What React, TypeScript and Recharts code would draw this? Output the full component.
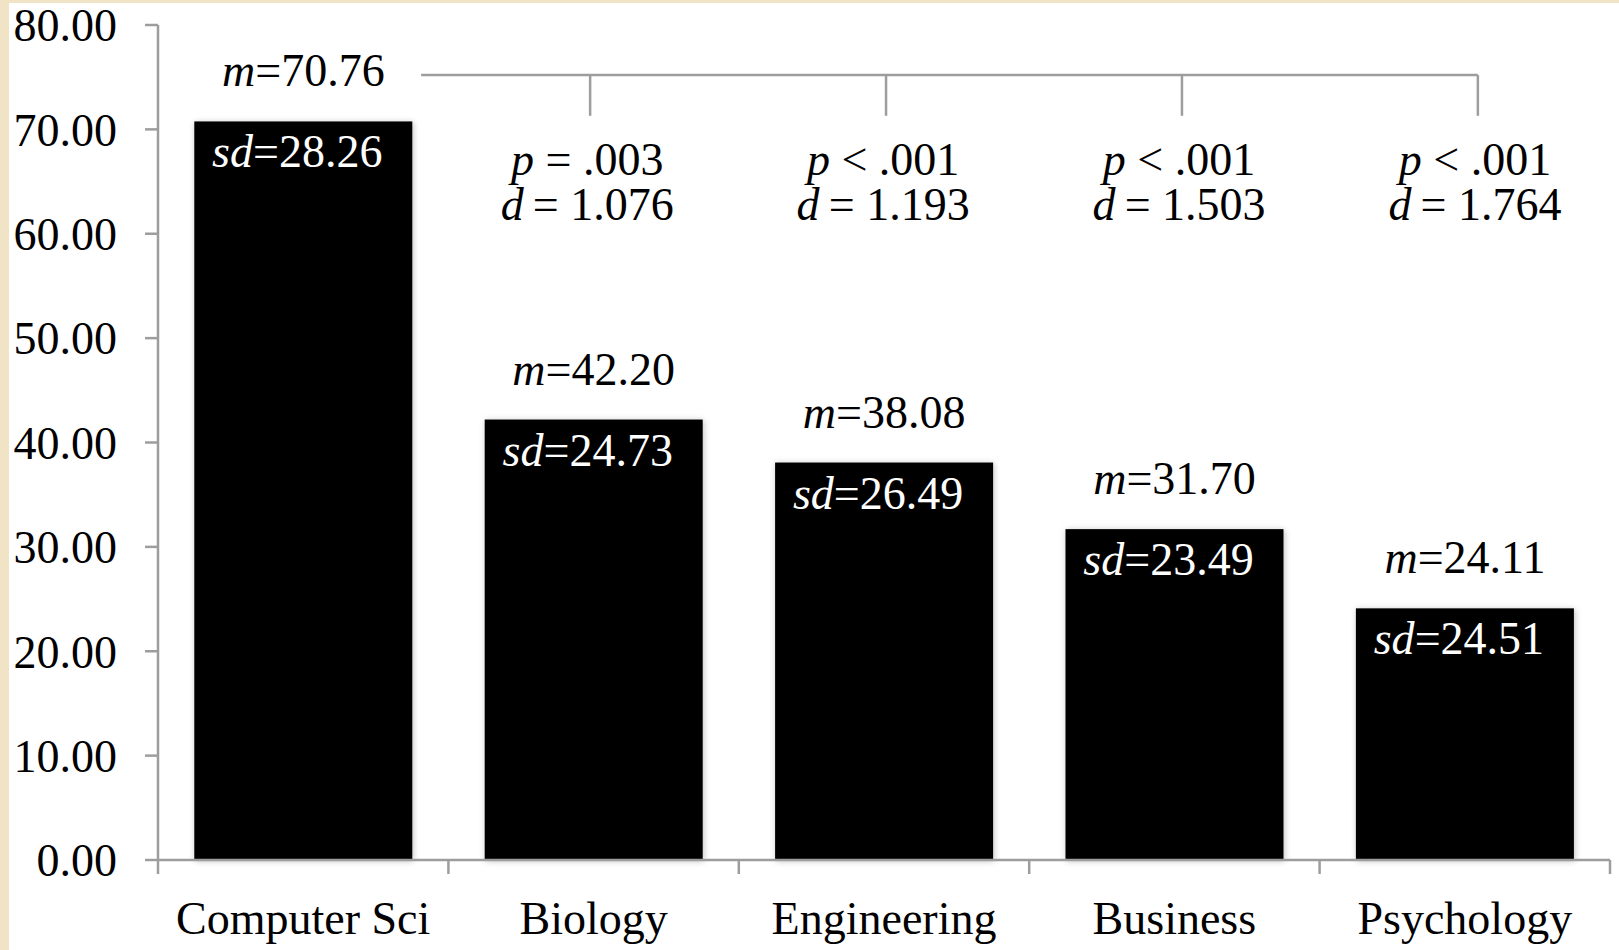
import {
  Bar,
  BarChart,
  ReferenceDot,
  ReferenceLine,
  XAxis,
  YAxis,
} from "recharts";

const majors = ["Computer Sci", "Biology", "Engineering", "Business", "Psychology"];
const means = [70.76, 42.2, 38.08, 31.7, 24.11];
const sds = [28.26, 24.73, 26.49, 23.49, 24.51];
const yTicks = [0, 10, 20, 30, 40, 50, 60, 70, 80];

// comparisons of Computer Sci against each other major
const pTexts = ["= .003", "< .001", "< .001", "< .001"];
const dTexts = ["1.076", "1.193", "1.503", "1.764"];

const W = 1619;
const H = 950;
const MARGIN = { top: 25, right: 9, bottom: 0, left: 0 };
const X_AXIS_H = 90;
const Y_AXIS_W = 158;
const SERIF = '"Liberation Serif", "Times New Roman", Times, serif';
const FS = 46;
const GRAY = "#9d9d9d";
const BAND = (W - MARGIN.left - MARGIN.right - Y_AXIS_W) / majors.length;

// bracket levels, in value units
const BRACKET_Y = 75.2;
const DROP_Y = 71.3;
const STATS_Y = 65.6;

const data = majors.map((major, i) => ({ major, mean: means[i], sd: sds[i] }));

// slot position of a category on the hidden numeric axis (one unit per category)
const slot = (d: { major: string }) => majors.indexOf(d.major) + 0.5;
// x position of each comparison on that axis
const compX = (i: number) => i + 1 + 0.488 + i * 0.019;

function StatBar(props: any) {
  const { x, y, width, height, payload } = props;
  const cx = x + width / 2;
  return (
    <g>
      <rect x={x} y={y} width={width} height={height} fill="#000" filter="url(#barShadow)" />
      <text x={cx} y={y - 35} textAnchor="middle" fontFamily={SERIF} fontSize={FS} fill="#000">
        <tspan fontStyle="italic">m</tspan>={payload.mean.toFixed(2)}
      </text>
      <text x={cx - 6} y={y + 46} textAnchor="middle" fontFamily={SERIF} fontSize={FS} fill="#fff">
        <tspan fontStyle="italic">sd</tspan>={payload.sd.toFixed(2)}
      </text>
    </g>
  );
}

function MajorTick(props: any) {
  const { x, y, payload, index } = props;
  const left = x - BAND / 2;
  const right = x + BAND / 2;
  return (
    <g>
      <line x1={left} x2={left} y1={y} y2={y + 14} stroke={GRAY} strokeWidth={2.5} />
      {index === majors.length - 1 && (
        <line x1={right} x2={right} y1={y} y2={y + 14} stroke={GRAY} strokeWidth={2.5} />
      )}
      <text x={x} y={y + 74} textAnchor="middle" fontFamily={SERIF} fontSize={FS} fill="#000">
        {payload.value}
      </text>
    </g>
  );
}

const statsShape = (i: number) => (props: any) => {
  const { cx, cy } = props;
  return (
    <g>
      <text x={cx} y={cy} textAnchor="middle" fontFamily={SERIF} fontSize={FS} fill="#000">
        <tspan fontStyle="italic">p</tspan>
        {" " + pTexts[i]}
      </text>
      <text x={cx} y={cy + 45} textAnchor="middle" fontFamily={SERIF} fontSize={FS} fill="#000">
        <tspan fontStyle="italic">d</tspan>
        {"\u2009= " + dTexts[i]}
      </text>
    </g>
  );
};

export default function App() {
  const startX = 0.5 + 0.375 + 0.031;
  return (
    <div style={{ position: "absolute", left: 0, top: 0, width: W, height: H, background: "#f1e3c6" }}>
      <div style={{ position: "absolute", left: 9, top: 3, right: 0, bottom: 0, background: "#fff" }} />
      <div style={{ position: "absolute", left: 0, top: 0 }}>
        <BarChart width={W} height={H} data={data} margin={MARGIN} barCategoryGap="12.5%">
          <defs>
            <filter id="barShadow" x="-10%" y="-10%" width="120%" height="120%">
              <feDropShadow dx="1" dy="1" stdDeviation="3" floodColor="#000" floodOpacity="0.25" />
            </filter>
          </defs>
          <XAxis
            dataKey="major"
            tick={<MajorTick />}
            tickLine={false}
            tickSize={0}
            tickMargin={0}
            axisLine={{ stroke: GRAY, strokeWidth: 2.5 }}
            interval={0}
            height={X_AXIS_H}
          />
          <XAxis
            xAxisId="n"
            dataKey={slot}
            type="number"
            domain={[0, majors.length]}
            allowDataOverflow
            hide
          />
          <YAxis
            width={Y_AXIS_W}
            domain={[0, 80]}
            ticks={yTicks}
            interval={0}
            tickFormatter={(v: number) => v.toFixed(2)}
            tick={{ fill: "#000", fontSize: FS, fontFamily: SERIF }}
            tickSize={13}
            tickMargin={28}
            axisLine={{ stroke: GRAY, strokeWidth: 2.5 }}
            tickLine={{ stroke: GRAY, strokeWidth: 2.5 }}
          />
          <Bar dataKey="mean" shape={<StatBar />} isAnimationActive={false} />
          <ReferenceLine
            xAxisId="n"
            ifOverflow="visible"
            segment={[
              { x: startX, y: BRACKET_Y },
              { x: compX(pTexts.length - 1), y: BRACKET_Y },
            ]}
            stroke={GRAY}
            strokeWidth={2.5}
          />
          {pTexts.map((_, i) => (
            <ReferenceLine
              key={`drop-${i}`}
              xAxisId="n"
              ifOverflow="visible"
              segment={[
                { x: compX(i), y: BRACKET_Y },
                { x: compX(i), y: DROP_Y },
              ]}
              stroke={GRAY}
              strokeWidth={2.5}
            />
          ))}
          {pTexts.map((_, i) => (
            <ReferenceDot
              key={`stats-${i}`}
              xAxisId="n"
              ifOverflow="visible"
              x={compX(i) - 0.01}
              y={STATS_Y}
              r={0}
              shape={statsShape(i)}
            />
          ))}
        </BarChart>
      </div>
    </div>
  );
}
